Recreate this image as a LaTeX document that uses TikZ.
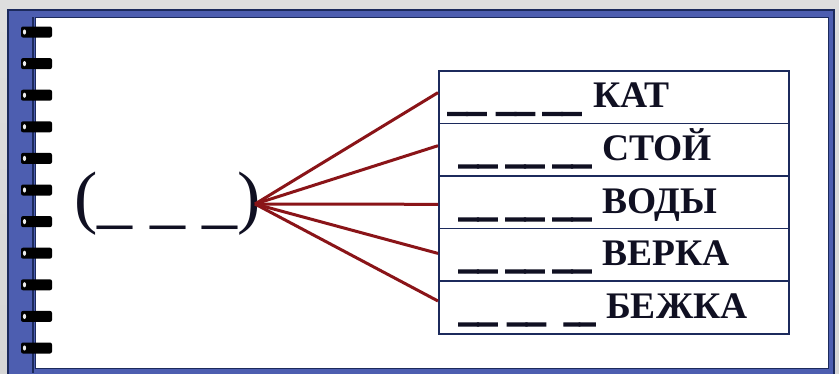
\documentclass[tikz,border=0pt]{standalone}
\usepackage{fontspec}
\setmainfont{Liberation Serif}
\newfontfamily\blankfont{Liberation Serif Bold}[FakeBold=4]
\usepackage{graphicx}
\definecolor{bggrey}{HTML}{D6D6D6}
\definecolor{frameblue}{HTML}{4D5EB0}
\definecolor{navy}{HTML}{1C2A5C}
\definecolor{inkc}{HTML}{101022}
\definecolor{connred}{HTML}{8A1418}
\newcommand\blk{\raisebox{-2.6pt}{\blankfont\scalebox{1.0}[1]{\_\_}}}
\newcommand\blks{\raisebox{-2.6pt}{\blankfont\scalebox{0.82}[1]{\_\_}}}
\tikzset{
  rowbox/.style={draw=navy, line width=1.6pt, minimum width=350pt, minimum height=52.6pt, inner sep=0pt, anchor=north west},
  word/.style={anchor=base west, inner sep=0pt, text=inkc, font=\fontsize{37.5}{44}\selectfont\bfseries},
  conn/.style={draw=connred, line width=3pt},
  ring/.style={fill=black, rounded corners=2pt},
}
\begin{document}
\begin{tikzpicture}[x=1pt,y=-1pt]
\useasboundingbox (0,0) rectangle (839,373);
\shade[top color=bggrey!80!white, bottom color=bggrey] (0,0) rectangle (839,373);
% frame
\fill[frameblue, draw=navy, line width=1.5pt] (8,10) rectangle (834,378);
\fill[white, draw=navy, line width=1pt] (35,17) rectangle (828,368);
\draw[navy, line width=1.3pt] (33,17) -- (33,373);
% rings
\foreach \i in {0,...,10}{
  \fill[ring] (21,{26.5+31.6*\i}) rectangle (52,{37.5+31.6*\i});
  \fill[white!85!gray] (24.5,{32+31.6*\i}) ellipse (1.6pt and 2.6pt);
}
% key word
\node[anchor=base west, inner sep=0pt, text=inkc, font=\fontsize{70}{80}\selectfont] (key) at (74,220) {(\_ \_ \_)};
\coordinate (hub) at (255,204);
% table rows
\node[rowbox] (r1) at (438,70) {};
\node[rowbox] (r2) at (438,122.6) {};
\node[rowbox] (r3) at (438,175.2) {};
\node[rowbox] (r4) at (438,227.8) {};
\node[rowbox] (r5) at (438,280.4) {};
% blanks
\node[word] (b1) at (448,107.5) {\blk\hspace{11pt}\blk\hspace{9pt}\blk};
\node[word] (b2) at (459,160) {\blk\hspace{9.5pt}\blk\hspace{9.5pt}\blk};
\node[word] (b3) at (459,213) {\blk\hspace{9.5pt}\blk\hspace{9.5pt}\blk};
\node[word] (b4) at (459,265) {\blk\hspace{9.5pt}\blk\hspace{9.5pt}\blk};
\node[word] (b5) at (459,318) {\blk\hspace{11pt}\blk\hspace{19pt}\blks};
% words
\node[word] (w1) at (593,107.5) {КАТ};
\node[word] (w2) at (602,160) {СТОЙ};
\node[word] (w3) at (602,213) {ВОДЫ};
\node[word] (w4) at (602,265) {ВЕРКА};
\node[word] (w5) at (606,318) {БЕЖКА};
% connectors
\draw[conn] (hub) -- ([yshift=4.5pt]r1.west);
\draw[conn] (hub) -- ([yshift=4pt]r2.west);
\draw[conn] (hub) -- ([yshift=-2pt]r3.west);
\draw[conn] (hub) -- ([yshift=1.5pt]r4.west);
\draw[conn] (hub) -- ([yshift=6.5pt]r5.west);
\end{tikzpicture}
\end{document}
